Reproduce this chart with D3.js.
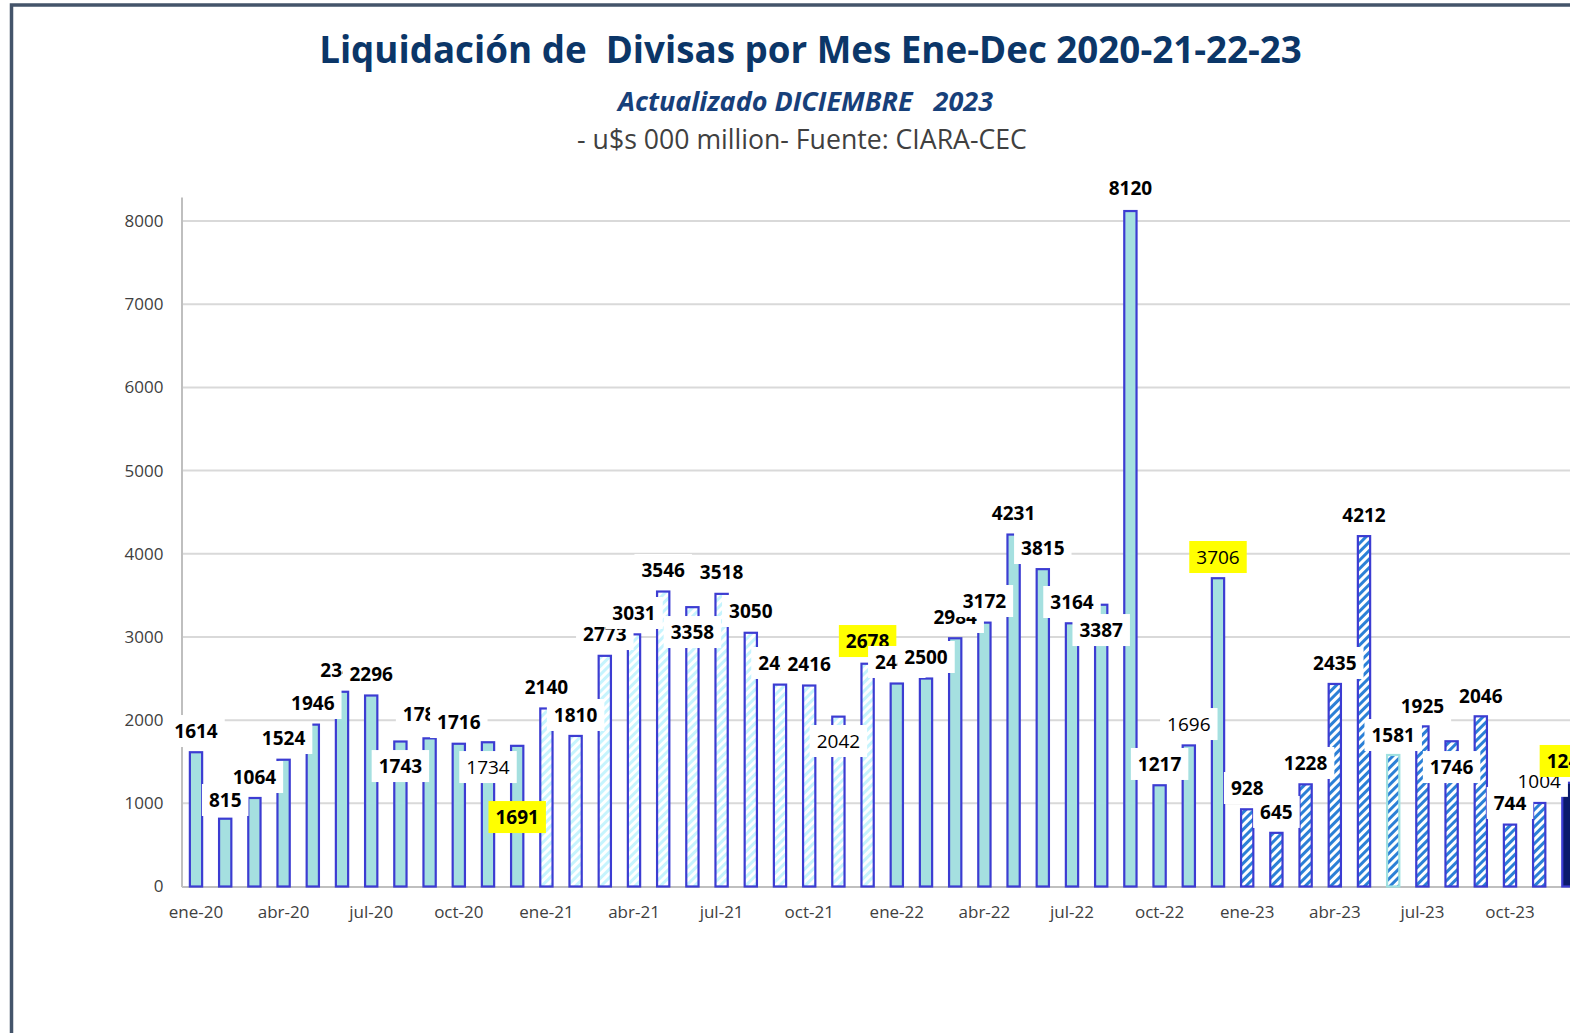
<!DOCTYPE html>
<html>
<head>
<meta charset="utf-8">
<script src="https://cdn.jsdelivr.net/npm/d3@7"></script>
<style>
  body { margin: 0; background: #fff; }
  text { font-family: "Open Sans", sans-serif; white-space: pre; }
</style>
</head>
<body>
<script>
// months and years of the x axis
var monthNames = ["ene", "feb", "mar", "abr", "may", "jun", "jul", "ago", "sep", "oct", "nov", "dic"];
var years = ["20", "21", "22", "23"];

// liquidación por mes, u$s millones
var values2020 = [1614, 815, 1064, 1524, 1946, 2341, 2296, 1743, 1781, 1716, 1734, 1691];
var values2021 = [2140, 1810, 2773, 3031, 3546, 3358, 3518, 3050, 2427, 2416, 2042, 2678];
var values2022 = [2440, 2500, 2984, 3172, 4231, 3815, 3164, 3387, 8120, 1217, 1696, 3706];
var values2023 = [928, 645, 1228, 2435, 4212, 1581, 1925, 1746, 2046, 744, 1004, 1247];

var yTicks = [0, 1000, 2000, 3000, 4000, 5000, 6000, 7000, 8000];

// where each data label sits (in axis units) and how it looks
var labelAt = [
    1869, 1040, 1316, 1785, 2206, 2603, 2555, 1448, 2074, 1977, 1436, 835,
    2398, 2062, 3035, 3288, 3805, 3059, 3781, 3312, 2687, 2675, 1749, 2951,
    2699, 2759, 3240, 3432, 4490, 4069, 3420, 3083, 8392, 1473, 1953, 3961,
    1184, 896, 1485, 2687, 4466, 1821, 2170, 1436, 2290, 1004, 1270, 1509
];
var labelKind = [
    "b", "b", "b", "b", "b", "b", "b", "b", "b", "b", "n", "yb",
    "b", "b", "b", "b", "b", "b", "b", "b", "b", "b", "n", "yb",
    "b", "b", "b", "b", "b", "b", "b", "b", "b", "b", "n", "yn",
    "b", "b", "b", "b", "b", "b", "b", "b", "b", "b", "n", "yb"
];
var labelNudge = { "sep-20": -5 };

var w = 1570;
var h = 1033;

var allValues = values2020.concat(values2021, values2022, values2023);
var months = [];
years.forEach(function (yy) {
    monthNames.forEach(function (m) { months.push(m + "-" + yy); });
});
var rows = months.map(function (m, i) {
    return { month: m, value: allValues[i], labelAt: labelAt[i], kind: labelKind[i], year: years[Math.floor(i / 12)] };
});

var svg = d3.select("body")
    .append("svg")
    .attr("width", w)
    .attr("height", h);

var defs = svg.append("defs");
function stripes(id, color, thick) {
    var p = defs.append("pattern")
        .attr("id", id)
        .attr("patternUnits", "userSpaceOnUse")
        .attr("width", 6)
        .attr("height", 6)
        .attr("patternTransform", "rotate(45)");
    p.append("rect").attr("width", 6).attr("height", 6).attr("fill", "#fff");
    p.append("rect").attr("width", thick).attr("height", 6).attr("fill", color);
}
stripes("hatchLight", "#c6f4fd", 3);
stripes("hatchBlue", "#2b80d6", 3);

//Frame
svg.append("rect")
    .attr("x", 11.5)
    .attr("y", 5)
    .attr("width", 1700)
    .attr("height", 1200)
    .attr("fill", "none")
    .attr("stroke", "#44546a")
    .attr("stroke-width", 3.5);

//Scales
var xScale = d3.scaleBand()
    .domain(months)
    .range([181.4, 181.4 + 48 * 29.2])
    .paddingInner(0.58)
    .paddingOuter(0.29);
var yScale = d3.scaleLinear()
    .domain([0, 8290])
    .range([886.5, 196.9]);

//Gridlines
svg.append("g")
    .selectAll("line")
    .data(yTicks.slice(1))
    .join("line")
    .attr("x1", 181.5)
    .attr("x2", w)
    .attr("y1", function (d) { return yScale(d); })
    .attr("y2", function (d) { return yScale(d); })
    .attr("stroke", "#d9d9d9")
    .attr("stroke-width", 2);

//Axes
var yAxis = d3.axisLeft(yScale)
    .tickValues(yTicks)
    .tickFormat(d3.format("d"))
    .tickSize(0)
    .tickSizeOuter(0)
    .tickPadding(18);
var gy = svg.append("g")
    .attr("transform", "translate(181.5,0)")
    .call(yAxis);
gy.select(".domain").attr("stroke", "#bfbfbf").attr("stroke-width", 2);
gy.selectAll("text").attr("font-size", 17).attr("fill", "#404040").attr("font-family", "Open Sans");

var xAxis = d3.axisBottom(xScale)
    .tickValues(months.filter(function (d, i) { return i % 3 === 0; }))
    .tickSize(0)
    .tickSizeOuter(0)
    .tickPadding(19);
var gx = svg.append("g")
    .attr("transform", "translate(0," + yScale(0) + ")")
    .call(xAxis);
gx.select(".domain").attr("stroke", "#bfbfbf").attr("stroke-width", 2);
gx.selectAll("text").attr("font-size", 17).attr("fill", "#404040").attr("font-family", "Open Sans");

//Bars
function barFill(d) {
    if (d.month === "dic-23") return "#0b1a6b";
    if (d.year === "21") return "url(#hatchLight)";
    if (d.year === "23") return "url(#hatchBlue)";
    return "#a5e0e0";
}
function barStroke(d) {
    if (d.month === "jun-23") return "#9fe0e0";
    return "#3c3cd2";
}
svg.append("g")
    .selectAll("rect")
    .data(rows)
    .join("rect")
    .attr("x", function (d) { return xScale(d.month); })
    .attr("y", function (d) { return yScale(d.value); })
    .attr("width", xScale.bandwidth())
    .attr("height", function (d) { return yScale(0) - yScale(d.value); })
    .attr("fill", barFill)
    .attr("stroke", barStroke)
    .attr("stroke-width", 2.2);

//Data labels, later ones drawn over earlier ones
var labels = svg.append("g")
    .selectAll("g")
    .data(rows)
    .join("g")
    .attr("transform", function (d) {
        var cx = xScale(d.month) + xScale.bandwidth() / 2 + (labelNudge[d.month] || 0);
        return "translate(" + cx + "," + yScale(d.labelAt) + ")";
    });
labels.each(function (d) {
    var g = d3.select(this);
    var t = g.append("text")
        .attr("text-anchor", "middle")
        .attr("dy", "0.36em")
        .attr("font-size", 19)
        .attr("font-weight", d.kind.indexOf("b") >= 0 ? 700 : 400)
        .attr("fill", "#000")
        .text(d.value);
    var tw = t.node().getComputedTextLength();
    g.insert("rect", "text")
        .attr("x", -tw / 2 - 7)
        .attr("y", -16)
        .attr("width", tw + 14)
        .attr("height", 32)
        .attr("fill", d.kind.charAt(0) === "y" ? "#ffff00" : "#fff");
});

//Titles
function fitWidth(sel, target) {
    var cur = sel.node().getComputedTextLength();
    var fs = parseFloat(sel.attr("font-size"));
    sel.attr("font-size", (fs * target / cur).toFixed(2));
}
var title = svg.append("text")
    .attr("x", 810.5)
    .attr("y", 63)
    .attr("text-anchor", "middle")
    .attr("font-size", 36)
    .attr("font-weight", 700)
    .attr("fill", "#0b3668")
    .text("Liquidación de  Divisas por Mes Ene-Dec 2020-21-22-23");
fitWidth(title, 983);

var sub = svg.append("text")
    .attr("x", 805.5)
    .attr("y", 111)
    .attr("text-anchor", "middle")
    .attr("font-size", 24)
    .attr("font-weight", 700)
    .attr("font-style", "italic")
    .attr("fill", "#17407a")
    .text("Actualizado DICIEMBRE   2023");
fitWidth(sub, 375);

var src = svg.append("text")
    .attr("x", 802)
    .attr("y", 149)
    .attr("text-anchor", "middle")
    .attr("font-size", 24)
    .attr("fill", "#404040")
    .text("- u$s 000 million- Fuente: CIARA-CEC");
fitWidth(src, 450);
</script>
</body>
</html>
